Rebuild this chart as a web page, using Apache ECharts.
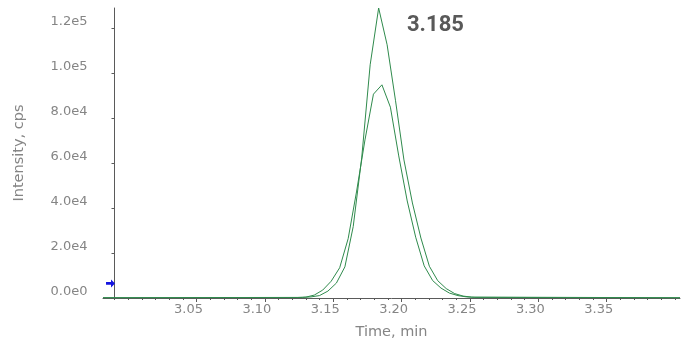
<!DOCTYPE html>
<html>
<head>
<meta charset="utf-8">
<script src="https://cdn.jsdelivr.net/npm/echarts@6/dist/echarts.min.js"></script>
<style>
  html, body { margin: 0; padding: 0; background: #fff; }
  #chart { width: 681px; height: 343px; }
</style>
</head>
<body>
<div id="chart"></div>
<script>
// transition 1 (taller trace)
const timesA = [2.9816, 3.1275, 3.1337, 3.1399, 3.1461, 3.1523, 3.1585, 3.1646, 3.1708, 3.1770, 3.1832,
    3.1894, 3.1955, 3.2017, 3.2079, 3.2141, 3.2203, 3.2264, 3.2326, 3.2388, 3.2450, 3.2512, 3.4036]
const intensA = [120, 260, 490, 1070, 3070, 6640, 13850, 31760, 62310, 103730, 128990,
    112640, 87970, 61420, 42270, 26680, 14120, 7710, 4190, 1960, 850, 400, 110]
// transition 2 (shorter trace)
const timesB = [2.9816, 3.1238, 3.1300, 3.1361, 3.1423, 3.1485, 3.1547, 3.1609, 3.1670, 3.1732, 3.1794,
    3.1856, 3.1918, 3.1979, 3.2041, 3.2103, 3.2165, 3.2227, 3.2288, 3.2350, 3.2412, 3.2474, 3.2536, 3.4036]
const intensB = [100, 220, 400, 1290, 3520, 7480, 13450, 26410, 47170, 70330, 90680,
    94830, 84890, 63200, 43160, 27040, 14300, 7750, 4410, 2180, 1070, 490, 270, 90]

const xLabels = [3.05, 3.10, 3.15, 3.20, 3.25, 3.30, 3.35]
const xMinorTicks = [2.99, 3.00, 3.01, 3.02, 3.03, 3.04, 3.05, 3.06, 3.07, 3.08, 3.09, 3.10, 3.11, 3.12, 3.13, 3.14,
    3.15, 3.16, 3.17, 3.18, 3.19, 3.20, 3.21, 3.22, 3.23, 3.24, 3.25, 3.26, 3.27, 3.28, 3.29, 3.30, 3.31,
    3.32, 3.33, 3.34, 3.35, 3.36, 3.37, 3.38, 3.39, 3.40]
const xMin = 2.9816
const xMax = 3.4036
const yMax = 129000
const yStep = 20000
const rtLabel = '3.185'
const thresholdTime = 2.9871
const thresholdLevel = 6500

const lineColor = '#2f8a4c'
const textColor = '#858585'
const axisColor = '#5a5a5a'
const font = 'DejaVu Sans'

const zip = (xs, ys) => xs.map((x, i) => [x, ys[i]])

const chart = echarts.init(document.getElementById('chart'), null, { renderer: 'canvas' })
chart.setOption({
    animation: false,
    title: {
        text: rtLabel,
        left: 407,
        top: 14,
        padding: 0,
        textStyle: { fontFamily: 'Roboto', fontWeight: 'bold', fontSize: 22, color: '#595959' }
    },
    grid: { left: 103, right: 1, top: 8, bottom: 45, outerBoundsMode: 'none' },
    xAxis: [
        {
            type: 'value',
            min: xMin,
            max: xMax,
            name: 'Time, min',
            nameLocation: 'middle',
            nameGap: 27,
            nameTextStyle: { color: textColor, fontFamily: font, fontSize: 14.5 },
            axisLine: { lineStyle: { color: axisColor, width: 1 } },
            axisTick: { customValues: xLabels, length: 4, lineStyle: { color: axisColor } },
            axisLabel: {
                customValues: xLabels,
                formatter: v => v.toFixed(2),
                color: textColor,
                fontFamily: font,
                fontSize: 13,
                margin: 5,
                padding: [0, 16, 0, 0]
            },
            splitLine: { show: false }
        },
        {
            type: 'value',
            min: xMin,
            max: xMax,
            position: 'bottom',
            axisLine: { show: false },
            axisTick: { customValues: xMinorTicks, length: 2, lineStyle: { color: axisColor } },
            axisLabel: { show: false },
            splitLine: { show: false }
        }
    ],
    yAxis: {
        type: 'value',
        min: 0,
        max: yMax,
        interval: yStep,
        offset: -11.5,
        name: 'Intensity, cps',
        nameLocation: 'middle',
        nameGap: 88,
        nameTextStyle: { color: textColor, fontFamily: font, fontSize: 14.5 },
        axisLine: { show: true, lineStyle: { color: axisColor, width: 1 } },
        axisTick: { show: true, length: 3, lineStyle: { color: axisColor } },
        axisLabel: {
            showMaxLabel: false,
            formatter: v => v.toExponential(1).replace('e+', 'e'),
            color: textColor,
            fontFamily: font,
            fontSize: 13,
            margin: 27,
            verticalAlign: 'bottom'
        },
        splitLine: { show: false }
    },
    series: [
        {
            name: 'A',
            type: 'line',
            data: zip(timesA, intensA),
            showSymbol: false,
            lineStyle: { color: lineColor, width: 1 },
            markPoint: {
                symbol: 'path://M0,3 L5,3 L5,0 L9,4.5 L5,9 L5,6 L0,6 Z',
                symbolSize: [9, 8],
                itemStyle: { color: '#1414e0' },
                label: { show: false },
                data: [{ coord: [thresholdTime, thresholdLevel] }]
            }
        },
        {
            name: 'B',
            type: 'line',
            data: zip(timesB, intensB),
            showSymbol: false,
            lineStyle: { color: lineColor, width: 1 }
        }
    ]
})
</script>
</body>
</html>
